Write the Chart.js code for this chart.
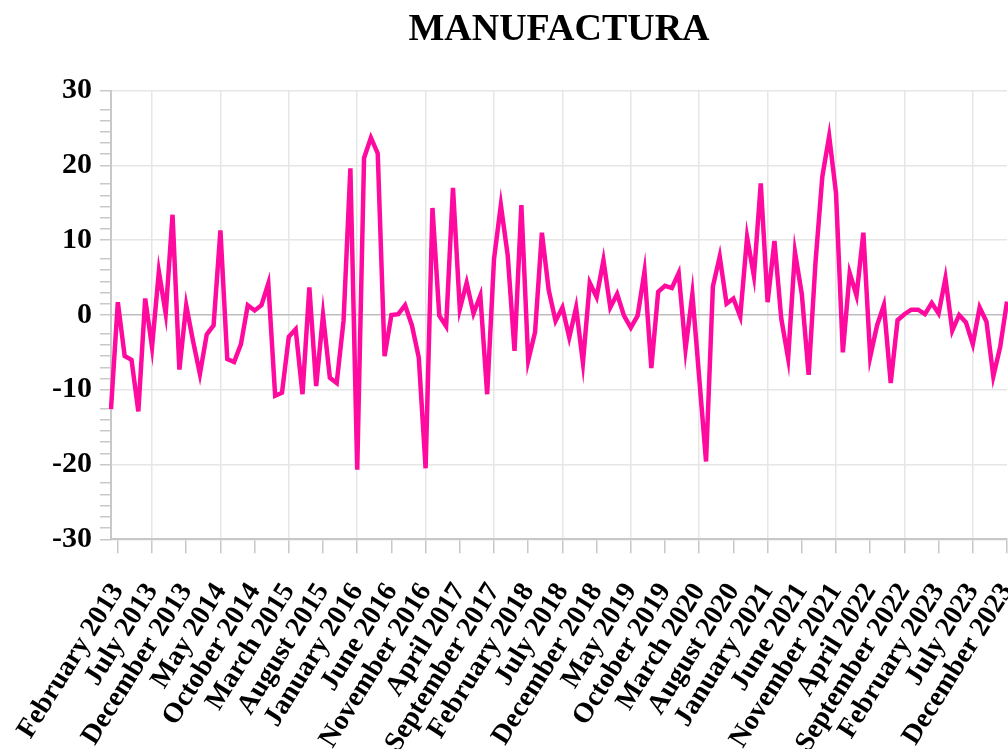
<!DOCTYPE html>
<html>
<head>
<meta charset="utf-8">
<title>Manufactura</title>
<script src="https://cdn.jsdelivr.net/npm/chart.js@4/dist/chart.umd.min.js"></script>
<style>
  html, body { margin: 0; padding: 0; background: #fff; overflow: hidden; }
  #wrap { width: 1008px; height: 749px; position: relative; }
</style>
</head>
<body>
<div id="wrap"><canvas id="chart"></canvas></div>
<script>
// --- Data ---
const monthNames = ['January', 'February', 'March', 'April', 'May', 'June',
  'July', 'August', 'September', 'October', 'November', 'December'];
const years = [2013, 2014, 2015, 2016, 2017, 2018, 2019, 2020, 2021, 2022, 2023];

// monthly values, one row per year (Jan..Dec)
const manufactura = [
  -12.6, 1.7, -5.5, -6.0, -12.9, 2.2, -4.3, 5.8, 0.2, 13.4, -7.3, 1.3,      // 2013
  -3.5, -7.9, -2.6, -1.4, 11.3, -5.9, -6.3, -3.9, 1.3, 0.6, 1.3, 4.2,       // 2014
  -10.8, -10.4, -2.9, -1.9, -10.6, 3.7, -9.5, 0.0, -8.4, -9.1, -0.8, 19.6,  // 2015
  -20.7, 21.0, 23.7, 21.6, -5.5, 0.0, 0.1, 1.3, -1.4, -5.7, -20.5, 14.3,    // 2016
  -0.1, -1.5, 17.0, 0.8, 4.3, 0.2, 2.6, -10.6, 7.5, 14.7, 8.0, -4.8,        // 2017
  14.7, -6.1, -2.3, 11.0, 3.3, -0.8, 1.0, -3.0, 1.0, -6.4, 4.3, 2.4,        // 2018
  7.3, 1.0, 2.8, -0.1, -1.7, -0.1, 5.8, -7.1, 3.1, 3.9, 3.6, 5.6,           // 2019
  -4.6, 2.8, -8.4, -19.6, 3.8, 7.8, 1.5, 2.2, -0.2, 10.4, 5.2, 17.6,        // 2020
  1.7, 9.9, -0.5, -5.8, 8.4, 2.8, -8.0, 7.0, 18.5, 23.9, 16.3, -5.0,        // 2021
  5.6, 2.6, 11.0, -5.6, -1.4, 1.3, -9.1, -0.7, 0.1, 0.7, 0.7, 0.1,          // 2022
  1.6, 0.2, 4.9, -2.1, 0.0, -1.0, -3.9, 1.0, -0.9, -8.2, -4.3, 1.8          // 2023
];

const yMajorTicks = [-30, -20, -10, 0, 10, 20, 30];
const yMinorOffsets = [1.5, 3, 4.5, 6, 7.5];

// labels like "February 2013"
const labels = [];
years.forEach(y => monthNames.forEach(m => labels.push(m + ' ' + y)));

const TICK_EVERY = 5;   // label every 5 months, starting Feb 2013
const GRID_EVERY = 10;  // vertical grid line every 10 months, starting Jul 2013

const serif = 'Liberation Serif, Times New Roman, serif';
const axisGray = '#c8c8c8';

new Chart(document.getElementById('chart').getContext('2d'), {
  type: 'line',
  data: {
    labels,
    datasets: [{
      label: 'MANUFACTURA',
      data: manufactura,
      borderColor: '#ff0a9e',
      borderWidth: 4.5,
      tension: 0,
      fill: false,
      pointRadius: 0
    }]
  },
  options: {
    responsive: true,
    maintainAspectRatio: false,
    animation: false,
    layout: { padding: { left: 44, right: 1, top: 0, bottom: 0 } },
    plugins: {
      legend: { display: false },
      tooltip: { enabled: false },
      title: {
        display: true,
        text: 'MANUFACTURA',
        fullSize: false,
        color: '#000',
        font: { family: serif, size: 38, weight: 'bold' },
        padding: { top: 7, bottom: 38 }
      }
    },
    scales: {
      x: {
        offset: false,
        afterFit: scale => {
          // the last rotated label hangs left of its tick, no room needed on the right
          scale.paddingRight = 0;
          scale.height -= 33;
        },
        ticks: {
          autoSkip: false,
          maxRotation: 58,
          minRotation: 58,
          padding: 24,
          color: '#000',
          font: { family: serif, size: 28, weight: 'bold' },
          callback: (v, i) => (i % TICK_EVERY === 1 ? labels[i] : '')
        },
        grid: {
          lineWidth: 1.5,
          tickLength: 14,
          color: ctx => (ctx.index % GRID_EVERY === 6 ? '#e6e6e6' : 'rgba(0,0,0,0)'),
          tickColor: ctx => (ctx.index % TICK_EVERY === 1 ? axisGray : 'rgba(0,0,0,0)')
        },
        border: { color: axisGray, width: 2 }
      },
      y: {
        min: -30,
        max: 30,
        afterBuildTicks: scale => {
          const t = [];
          yMajorTicks.forEach((v, i) => {
            t.push({ value: v });
            if (i < yMajorTicks.length - 1) yMinorOffsets.forEach(o => t.push({ value: v + o }));
          });
          scale.ticks = t;
        },
        ticks: {
          autoSkip: false,
          padding: 8,
          color: '#000',
          font: { family: serif, size: 30, weight: 'bold' },
          callback: v => (yMajorTicks.includes(v) ? v : '')
        },
        grid: {
          lineWidth: 1.5,
          tickLength: 11,
          color: ctx => {
            const v = ctx.tick.value;
            if (v === 0) return '#bdbdbd';
            return yMajorTicks.includes(v) ? '#e6e6e6' : 'rgba(0,0,0,0)';
          },
          tickColor: axisGray
        },
        border: { color: axisGray, width: 2 }
      }
    }
  }
});
</script>
</body>
</html>
